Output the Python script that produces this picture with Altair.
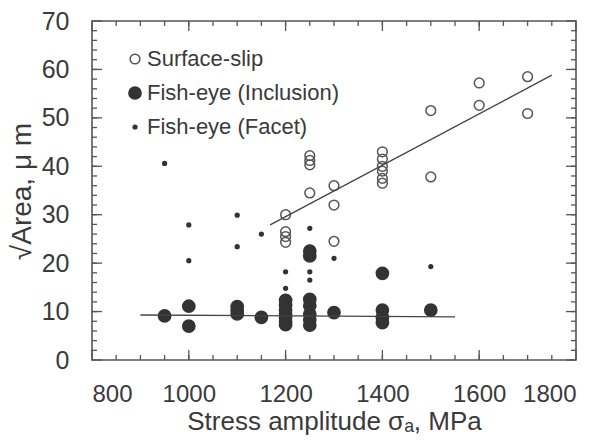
import altair as alt
import pandas as pd

# ---- data ----
types = ["Surface-slip", "Fish-eye (Inclusion)", "Fish-eye (Facet)"]

slip_x = [1200, 1200, 1200, 1200,
          1250, 1250, 1250, 1250, 1250,
          1300, 1300, 1300,
          1400, 1400, 1400, 1400, 1400, 1400,
          1500, 1500, 1600, 1600, 1700, 1700]
slip_y = [30.0, 26.5, 25.5, 24.3,
          42.2, 41.2, 40.3, 34.5, 22.7,
          36.0, 32.0, 24.5,
          43.0, 41.5, 40.0, 39.0, 37.5, 36.5,
          51.5, 37.8, 57.2, 52.6, 58.5, 50.9]

incl_x = [950, 1000, 1000, 1100, 1100, 1100, 1150,
          1200, 1200, 1200, 1200, 1200, 1200, 1200,
          1250, 1250, 1250, 1250, 1250, 1250, 1250,
          1300, 1400, 1400, 1400, 1400, 1500]
incl_y = [9.1, 11.1, 7.0, 11.0, 10.2, 9.5, 8.8,
          12.3, 11.3, 10.3, 9.5, 8.7, 7.9, 7.3,
          22.5, 21.5, 12.5, 11.2, 9.5, 8.3, 7.2,
          9.8, 17.9, 10.3, 8.8, 7.7, 10.3]

facet_x = [950, 1000, 1000, 1100, 1100, 1150, 1200, 1200, 1250, 1250, 1250, 1300, 1500]
facet_y = [40.6, 27.9, 20.5, 29.9, 23.4, 26.0, 18.2, 14.8, 27.2, 18.2, 16.5, 21.0, 19.3]

fit_name = ["slip", "slip", "incl", "incl"]
fit_x = [1168, 1750, 900, 1550]
fit_y = [27.9, 58.8, 9.3, 8.9]

x_major = [800, 1000, 1200, 1400, 1600, 1800]
x_minor = list(range(850, 1800, 50))
y_major = [0, 10, 20, 30, 40, 50, 60, 70]
y_minor = list(range(2, 70, 2))

rows = []
for t, xs, ys in zip(types, [slip_x, incl_x, facet_x], [slip_y, incl_y, facet_y]):
    for a, b in zip(xs, ys):
        rows.append({"stress": a, "area": b, "type": t})
df = pd.DataFrame(rows)
fit_df = pd.DataFrame({"stress": fit_x, "area": fit_y, "fit": fit_name})

FONT = "Liberation Sans"
TXT = "#3a3a3a"
LINE = "#555555"
W, H = 484, 339
MAJ, MIN = 10, 5

xscale = alt.Scale(domain=[800, 1800], nice=False, zero=False)
yscale = alt.Scale(domain=[0, 70], nice=False)

xaxis = alt.Axis(
    orient="bottom", values=x_major, format="d", ticks=False, tickSize=0, domain=False, grid=False,
    labelPadding=22, labelFont=FONT, labelFontSize=24, labelColor=TXT,
    title="Stress amplitude σₐ,  MPa", titleFont=FONT, titleFontSize=26,
    titleFontWeight="normal", titleColor=TXT, titleY=69, titleBaseline="alphabetic")
yaxis = alt.Axis(
    orient="left", values=y_major, format="d", ticks=False, tickSize=0, domain=False, grid=False,
    labelPadding=23, labelFont=FONT, labelFontSize=25, labelColor=TXT,
    title="√Area,   μ m", titleFont=FONT, titleFontSize=28, titleFontWeight="normal",
    titleColor=TXT, titleX=-62, titleY=170, titleBaseline="alphabetic", titleAlign="center")

legend = alt.Legend(
    title=None, orient="none", legendX=32, legendY=27, padding=0,
    labelFont=FONT, labelFontSize=22, labelColor=TXT, labelLimit=400,
    labelOffset=1, rowPadding=12, symbolStrokeWidth=1.5,
)

points = alt.Chart(df).mark_point(filled=False, strokeWidth=1.5, opacity=1, shape="circle").encode(
    x=alt.X("stress:Q", scale=xscale, axis=xaxis),
    y=alt.Y("area:Q", scale=yscale, axis=yaxis),
    color=alt.Color("type:N", scale=alt.Scale(type="ordinal", domain=types, range=["#555555", "#333333", "#333333"]), legend=legend),
    fill=alt.Fill("type:N", scale=alt.Scale(type="ordinal", domain=types, range=["transparent", "#333333", "#333333"]), legend=legend),
    size=alt.Size("type:N", scale=alt.Scale(type="ordinal", domain=types, range=[95, 150, 14]), legend=legend),
)

lines = alt.Chart(fit_df).mark_line(color="#444444", strokeWidth=1.4).encode(
    x=alt.X("stress:Q", scale=xscale, axis=xaxis),
    y=alt.Y("area:Q", scale=yscale, axis=yaxis),
    detail="fit:N",
)


# inward frame ticks, placed on the axis scales
def xticks(values, y0, y1):
    d = pd.DataFrame({"stress": values})
    return alt.Chart(d).mark_rule(color=LINE, strokeWidth=1.3).encode(
        x=alt.X("stress:Q", scale=xscale, axis=xaxis), y=alt.value(y0), y2=alt.value(y1))


def yticks(values, x0, x1):
    d = pd.DataFrame({"area": values})
    return alt.Chart(d).mark_rule(color=LINE, strokeWidth=1.3).encode(
        y=alt.Y("area:Q", scale=yscale, axis=yaxis), x=alt.value(x0), x2=alt.value(x1))


ticks = [
    xticks(x_major, H, H - MAJ), xticks(x_minor, H, H - MIN),
    xticks(x_major, 0, MAJ), xticks(x_minor, 0, MIN),
    yticks(y_major, 0, MAJ), yticks(y_minor, 0, MIN),
    yticks(y_major, W, W - MAJ), yticks(y_minor, W, W - MIN),
]

chart = alt.layer(points, lines, *ticks).properties(
    width=W, height=H,
    autosize=alt.AutoSizeParams(type="none"),
    padding={"left": 92, "top": 21, "right": 36, "bottom": 83},
    background="white",
).configure_view(stroke=LINE, strokeWidth=1.6)

chart.save("out.html", embed_options={"renderer": "svg", "actions": False})
